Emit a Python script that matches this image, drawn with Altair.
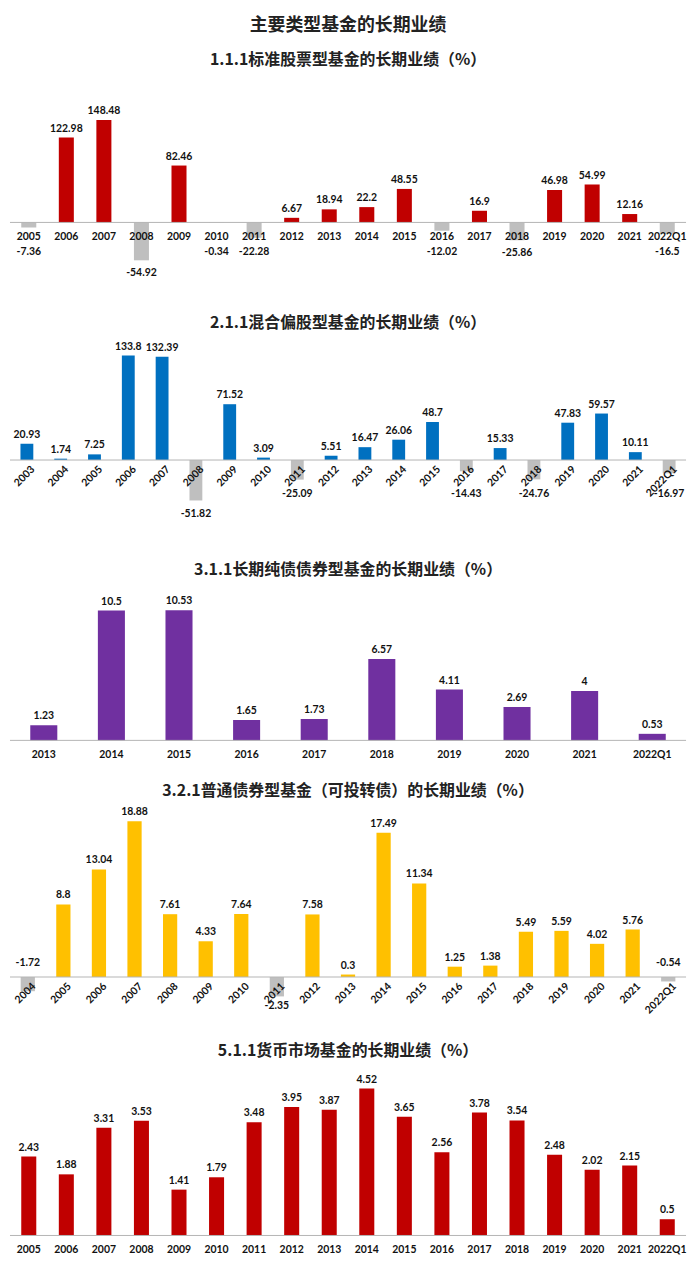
import altair as alt
import pandas as pd

MAIN_TITLE = "主要类型基金的长期业绩"

p1_title = "1.1.1标准股票型基金的长期业绩（%）"
p1_cats = ["2005", "2006", "2007", "2008", "2009", "2010", "2011", "2012", "2013",
           "2014", "2015", "2016", "2017", "2018", "2019", "2020", "2021", "2022Q1"]
p1_vals = [-7.36, 122.98, 148.48, -54.92, 82.46, -0.34, -22.28, 6.67, 18.94,
           22.2, 48.55, -12.02, 16.9, -25.86, 46.98, 54.99, 12.16, -16.5]

p2_title = "2.1.1混合偏股型基金的长期业绩（%）"
p2_cats = ["2003", "2004", "2005", "2006", "2007", "2008", "2009", "2010", "2011", "2012",
           "2013", "2014", "2015", "2016", "2017", "2018", "2019", "2020", "2021", "2022Q1"]
p2_vals = [20.93, 1.74, 7.25, 133.8, 132.39, -51.82, 71.52, 3.09, -25.09, 5.51,
           16.47, 26.06, 48.7, -14.43, 15.33, -24.76, 47.83, 59.57, 10.11, -16.97]

p3_title = "3.1.1长期纯债债券型基金的长期业绩（%）"
p3_cats = ["2013", "2014", "2015", "2016", "2017", "2018", "2019", "2020", "2021", "2022Q1"]
p3_vals = [1.23, 10.5, 10.53, 1.65, 1.73, 6.57, 4.11, 2.69, 4, 0.53]

p4_title = "3.2.1普通债券型基金（可投转债）的长期业绩（%）"
p4_cats = ["2004", "2005", "2006", "2007", "2008", "2009", "2010", "2011", "2012", "2013",
           "2014", "2015", "2016", "2017", "2018", "2019", "2020", "2021", "2022Q1"]
p4_vals = [-1.72, 8.8, 13.04, 18.88, 7.61, 4.33, 7.64, -2.35, 7.58, 0.3,
           17.49, 11.34, 1.25, 1.38, 5.49, 5.59, 4.02, 5.76, -0.54]

p5_title = "5.1.1货币市场基金的长期业绩（%）"
p5_cats = ["2005", "2006", "2007", "2008", "2009", "2010", "2011", "2012", "2013",
           "2014", "2015", "2016", "2017", "2018", "2019", "2020", "2021", "2022Q1"]
p5_vals = [2.43, 1.88, 3.31, 3.53, 1.41, 1.79, 3.48, 3.95, 3.87,
           4.52, 3.65, 2.56, 3.78, 3.54, 2.48, 2.02, 2.15, 0.5]

CJK = "Noto Sans CJK SC"
NUM = "Lato"
NEG = "#BFBFBF"
AXIS = "#B4B4B4"
TXT = "#111111"
W = 680


def panel(title, cats, vals, color, height, ymin, ymax, pad_inner,
          rotate, neg_floor, neg_dy, small_neg_thr):
    df = pd.DataFrame({"cat": cats, "v": vals})
    df["zero"] = 0.0
    yscale = alt.Scale(domain=[ymin, ymax], nice=False, zero=False)
    xenc = alt.X("cat:N", sort=cats, axis=None,
                 scale=alt.Scale(paddingInner=pad_inner, paddingOuter=pad_inner / 2))
    src = alt.Chart(df).transform_calculate(lbl="'' + datum.v")
    bars = src.mark_bar().encode(
        x=xenc,
        y=alt.Y("v:Q", scale=yscale, axis=None),
        y2=alt.Y2("zero:Q"),
        color=alt.condition("datum.v < 0", alt.value(NEG), alt.value(color)),
    )
    rule_df = pd.DataFrame({"zero": [0.0]})
    rule = alt.Chart(rule_df).mark_rule(color=AXIS, strokeWidth=1).encode(
        y=alt.Y("zero:Q", scale=yscale, axis=None)
    )
    tstyle = dict(font=NUM, fontWeight="bold", fontSize=10.5, color=TXT)
    pos = src.transform_filter("datum.v >= 0").mark_text(
        baseline="bottom", dy=-4, **tstyle
    ).encode(x=xenc, y=alt.Y("v:Q", scale=yscale, axis=None), text=alt.Text("lbl:N"))
    layers = [bars, rule, pos]
    neg_big = src.transform_filter(
        f"datum.v < 0 && datum.v <= {small_neg_thr}"
    ).transform_calculate(
        ly=f"min(datum.v, {neg_floor})"
    ).mark_text(
        baseline="top", dy=neg_dy, **tstyle
    ).encode(x=xenc, y=alt.Y("ly:Q", scale=yscale, axis=None), text=alt.Text("lbl:N"))
    layers.append(neg_big)
    if small_neg_thr < 0:
        neg_small = src.transform_filter(
            f"datum.v < 0 && datum.v > {small_neg_thr}"
        ).mark_text(
            baseline="bottom", dy=-9, **tstyle
        ).encode(x=xenc, y=alt.Y("zero:Q", scale=yscale, axis=None), text=alt.Text("lbl:N"))
        layers.append(neg_small)
    if rotate:
        cat_text = src.mark_text(
            angle=315, align="right", baseline="middle", dx=-1, dy=10, **tstyle
        ).encode(x=xenc, y=alt.Y("zero:Q", scale=yscale, axis=None), text="cat:N")
    else:
        cat_text = src.mark_text(
            baseline="middle", dy=15, **tstyle
        ).encode(x=xenc, y=alt.Y("zero:Q", scale=yscale, axis=None), text="cat:N")
    layers.append(cat_text)
    return alt.layer(*layers).properties(
        width=W, height=height,
        title=alt.TitleParams(title, font=CJK, fontSize=16, fontWeight="bold",
                              color="#222222", anchor="middle", offset=4),
    )


c1 = panel(p1_title, p1_cats, p1_vals, "#C00000", 244, -134.0, 217.6, 0.6,
           False, -24, 8, 0)
c2 = panel(p2_title, p2_cats, p2_vals, "#0070C0", 229, -131.2, 160.5, 0.62,
           True, -25.5, 9, 0)
c3 = panel(p3_title, p3_cats, p3_vals, "#7030A0", 202, -3.457, 12.78, 0.6,
           False, 0, 5, 0)
c4 = panel(p4_title, p4_cats, p4_vals, "#FFC000", 241, -7.95, 21.08, 0.6,
           True, 0, 5, -2)
c5 = panel(p5_title, p5_cats, p5_vals, "#C00000", 199, -0.765, 5.32, 0.6,
           False, 0, 5, 0)

chart = alt.vconcat(c1, c2, c3, c4, c5, spacing=0).properties(
    title=alt.TitleParams(MAIN_TITLE, font=CJK, fontSize=18, fontWeight="bold",
                          color="#222222", anchor="middle", offset=18),
    padding={"left": 1, "top": 5, "right": 5, "bottom": 0},
).configure_view(stroke=None)

chart.save("out.html", embed_options={"renderer": "svg", "actions": False})
